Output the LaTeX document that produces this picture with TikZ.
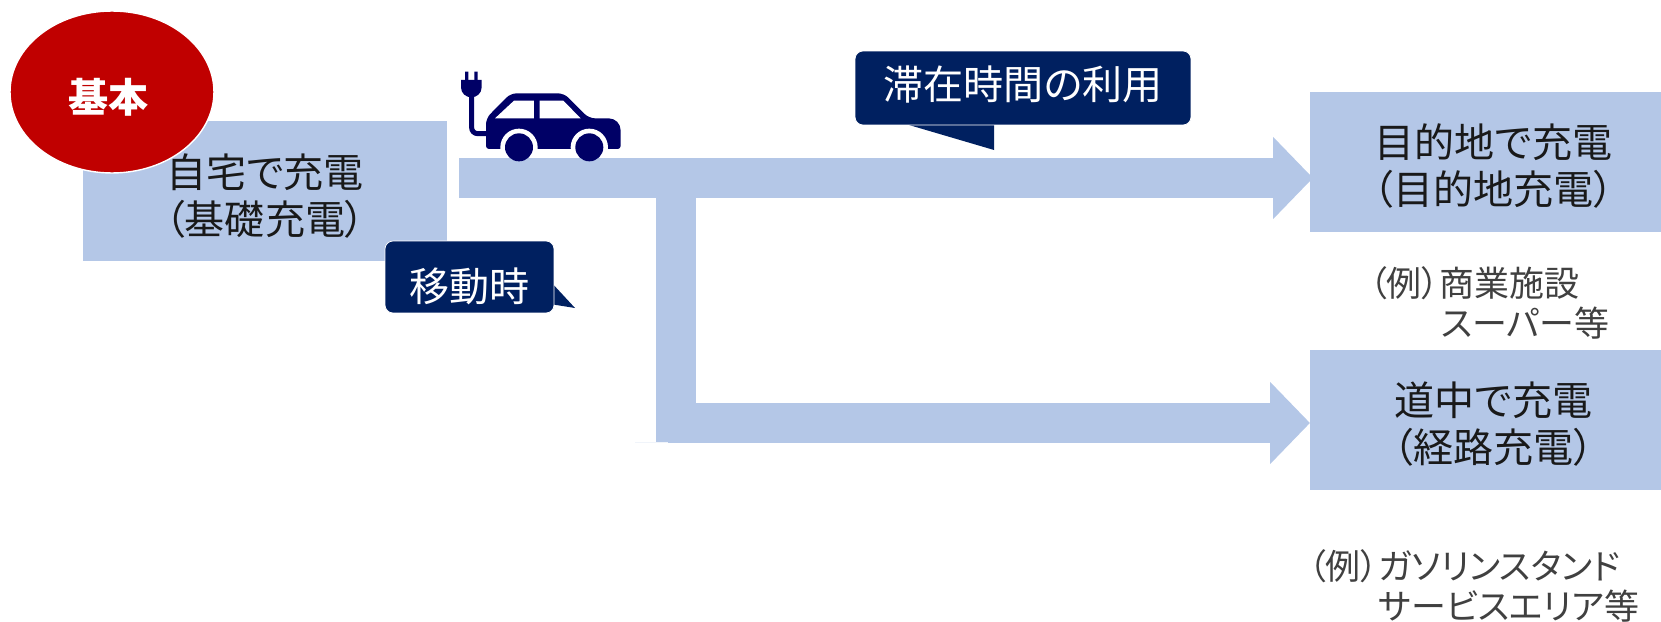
\documentclass[tikz,border=0pt]{standalone}
\usepackage{fontspec}
\setmainfont{Noto Sans CJK JP}[RawFeature=+palt]
\usepackage{tikz}
\usetikzlibrary{arrows.meta,shapes.geometric}
\definecolor{flowblue}{HTML}{B4C7E7}
\definecolor{callnavy}{HTML}{002060}
\definecolor{carnavy}{HTML}{000066}
\definecolor{basered}{HTML}{C00000}
\definecolor{notegray}{HTML}{404040}
\tikzset{chargebox/.style={fill=flowblue, text=black!90, align=center, inner sep=0pt,
         minimum height=2.8cm, font=\fontsize{22.8}{26.4}\selectfont},
         callbox/.style={fill=callnavy, draw=white, thin, rounded corners=0.16cm, text=white,
         inner sep=0pt, font=\fontsize{22.8}{26.4}\selectfont},
         notetext/.style={anchor=west, align=left, inner sep=0pt, text=notegray,
         font=\fontsize{19.9}{23.2}\selectfont},
         flow/.style={draw=flowblue, line width=0.8cm, line join=miter,
         -{Triangle[length=0.8cm, width=1.6cm, fill=flowblue]}}}
\newcommand{\lowertext}[1]{\rule{0pt}{#1}}

\begin{document}
\begin{tikzpicture}[x=0.02cm, y=-0.02cm]
  \useasboundingbox (0,0) rectangle (1661,622);
  \clip (0,0) rectangle (1661,622);

  \node[chargebox, minimum width=7.28cm] (home) at (265,191) {\lowertext{25pt}自宅で充電\\（基礎充電）};
  \node[chargebox, minimum width=7.34cm] (destination) at (1493.5,162) {\lowertext{24pt}目的地で充電\\（目的地充電）};
  \node[chargebox, minimum width=7.34cm] (enroute) at (1493.5,420) {\lowertext{24pt}道中で充電\\（経路充電）};

  % car, in its own small grid
  \begin{scope}[shift={(440,50)}, x=0.00667cm, y=-0.00667cm]
    \fill[carnavy] (75,65) rectangle (85,95) (103,65) rectangle (113,95);
    \fill[carnavy] (63,90) -- (125,90) -- (125,112) .. controls (125,130) and (110,142) .. (94,142)
      .. controls (78,142) and (63,130) .. (63,112) -- cycle;
    \draw[carnavy, line width=0.1cm, rounded corners=0.12cm] (95,135) -- (95,251) -- (145,251);
    \fill[carnavy, rounded corners=0.12cm] (138,297) -- (138,205) -- (212,130) -- (372,130)
      -- (447,205) [rounded corners=0.24cm] -- (542,205) [rounded corners=0.06cm] -- (542,297) -- cycle;
    \fill[white] (165,205) -- (222,152) -- (282,152) -- (282,205) -- cycle
      (299,152) -- (370,152) -- (422,205) -- (299,205) -- cycle;
    \foreach \u in {237,448}
      \fill[white] (\u,292) circle[radius=56];
  \end{scope}

  \coordinate (homeroad) at (459,178);
  \coordinate (destinationtip) at (1313,178);
  \coordinate (branch) at (676,178);
  \coordinate (enroutetip) at (1310,423);
  \draw[flow] (homeroad) -- (destinationtip);
  \draw[flow] (branch) |- (enroutetip);
  \fill[flowblue!20] (635,441.5) rectangle (668,442.5);

  \begin{scope}[shift={(440,50)}, x=0.00667cm, y=-0.00667cm]
    \foreach \u in {237,448}
      \fill[carnavy] (\u,292) circle[radius=42];
  \end{scope}

  \node[ellipse, fill=basered, draw=white, thick, minimum width=4.08cm, minimum height=3.24cm,
    inner sep=0pt, text=white, font=\fontsize{22.8}{26.4}\bfseries\selectfont] (basic) at (112,92)
    {\lowertext{26pt}基本\hspace*{4pt}};

  \fill[callnavy] (892,120) -- (994,150) -- (994,120) -- cycle;
  \node[callbox, minimum width=6.72cm, minimum height=1.48cm] (stay) at (1023,88)
    {\rule[-6pt]{0pt}{6pt}滞在時間の利用};
  \fill[callnavy] (550,281) -- (575,308) -- (550,304) -- cycle;
  \node[callbox, minimum width=3.38cm, minimum height=1.44cm] (moving) at (469.5,277)
    {\lowertext{30pt}移動時};

  \node[notetext] (shopnote) at (1369,303) {（例）商業施設\\\hspace*{41pt}スーパー等};
  \node[notetext] (roadnote) at (1308,586) {（例）ガソリンスタンド\\\hspace*{40pt}サービスエリア等};
\end{tikzpicture}
\end{document}
